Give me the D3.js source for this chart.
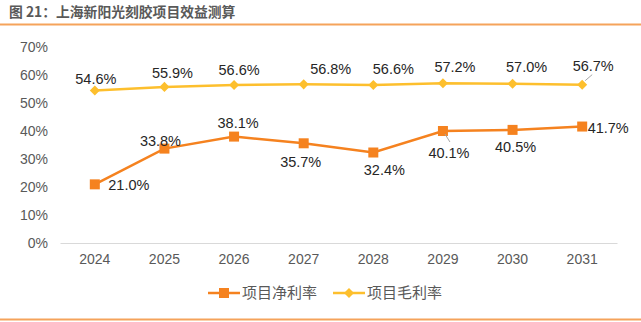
<!DOCTYPE html>
<html><head><meta charset="utf-8">
<script src="https://cdn.jsdelivr.net/npm/d3@7"></script>
<style>body{margin:0;background:#fff;}svg{display:block;}</style>
</head><body>
<script>
const years = ["2024","2025","2026","2027","2028","2029","2030","2031"];
const netMargin = [21.0, 33.8, 38.1, 35.7, 32.4, 40.1, 40.5, 41.7];
const grossMargin = [54.6, 55.9, 56.6, 56.8, 56.6, 57.2, 57.0, 56.7];
const yTicks = [0, 10, 20, 30, 40, 50, 60, 70];
const seriesNames = ["项目净利率", "项目毛利率"];
const title = "图 21：上海新阳光刻胶项目效益测算";

// label offsets (layout only)
const netLabelOff = [[34,1],[-4,-8],[4,-14],[-3,19],[11,17],[6,22],[3,17],[26,1]];
const grossLabelOff = [[1,-12],[8,-14],[5,-15],[27,-15],[20,-16],[12,-16],[14,-17],[11,-19]];

const W = 641, H = 322;
const svg = d3.select("body").append("svg").attr("width", W).attr("height", H);
const font = "'Liberation Sans', Arial, sans-serif";
const cjk = "'Noto Sans CJK SC', 'Microsoft YaHei', sans-serif";

svg.append("text").attr("x", 9).attr("y", 17)
  .attr("font-family", cjk).attr("font-weight", "bold").attr("font-size", 13.8)
  .attr("fill", "#595959").text(title);
svg.append("line").attr("x1", 0).attr("x2", W).attr("y1", 24.5).attr("y2", 24.5)
  .attr("stroke", "#F5A35B").attr("stroke-width", 2);
svg.append("line").attr("x1", 0).attr("x2", W).attr("y1", 319.5).attr("y2", 319.5)
  .attr("stroke", "#F5A35B").attr("stroke-width", 2);

const x = d3.scaleBand().domain(years).range([60, 617]);
const y = d3.scaleLinear().domain([0, 70]).range([243, 47.5]);
const cx = d => x(d) + x.bandwidth() / 2;

// y axis labels
svg.append("g").selectAll("text").data(yTicks).join("text")
  .attr("x", 48).attr("y", d => y(d)).attr("dy", "0.35em")
  .attr("text-anchor", "end").attr("font-family", font).attr("font-size", 14)
  .attr("fill", "#595959").text(d => d + "%");

// x axis
const xAxis = d3.axisBottom(x).tickSize(0).tickPadding(11);
const gx = svg.append("g").attr("transform", "translate(0,243)").call(xAxis);
gx.select(".domain").attr("stroke", "#D9D9D9").attr("stroke-width", 1);
gx.selectAll("text").attr("font-family", font).attr("font-size", 14).attr("fill", "#595959");

const line = d3.line().x((d, i) => cx(years[i])).y(d => y(d));
const netColor = "#F5821F", grossColor = "#FDBF2D";

svg.append("path").datum(grossMargin).attr("d", line).attr("fill", "none")
  .attr("stroke", grossColor).attr("stroke-width", 2.5);
svg.append("path").datum(netMargin).attr("d", line).attr("fill", "none")
  .attr("stroke", netColor).attr("stroke-width", 2.5);

const diamond = d3.symbol().type(d3.symbolDiamond2).size(64);
svg.append("g").selectAll("path").data(grossMargin).join("path")
  .attr("d", diamond)
  .attr("transform", (d, i) => `translate(${cx(years[i])},${y(d)})`)
  .attr("fill", grossColor);
svg.append("g").selectAll("rect").data(netMargin).join("rect")
  .attr("x", (d, i) => cx(years[i]) - 5).attr("y", d => y(d) - 5)
  .attr("width", 10).attr("height", 10).attr("fill", netColor);

// leader lines
const leaders = [
  {s: grossMargin, i: 7, x1: 3, y1: -4, x2: 10, y2: -10},
  {s: netMargin, i: 5, x1: 2, y1: 3, x2: 7, y2: 11}
];
svg.append("g").selectAll("line").data(leaders).join("line")
  .attr("x1", d => cx(years[d.i]) + d.x1).attr("y1", d => y(d.s[d.i]) + d.y1)
  .attr("x2", d => cx(years[d.i]) + d.x2).attr("y2", d => y(d.s[d.i]) + d.y2)
  .attr("stroke", "#A6A6A6").attr("stroke-width", 1);

function labels(data, off) {
  svg.append("g").selectAll("text").data(data).join("text")
    .attr("x", (d, i) => cx(years[i]) + off[i][0])
    .attr("y", (d, i) => y(d) + off[i][1]).attr("dy", "0.35em")
    .attr("text-anchor", "middle").attr("font-family", font).attr("font-size", 14.5)
    .attr("fill", "#262626").text(d => d.toFixed(1) + "%");
}
labels(grossMargin, grossLabelOff);
labels(netMargin, netLabelOff);

// legend
const lg = svg.append("g");
const legendItems = [
  {name: seriesNames[0], color: netColor, x: 208, shape: "sq"},
  {name: seriesNames[1], color: grossColor, x: 333, shape: "di"}
];
legendItems.forEach(it => {
  lg.append("line").attr("x1", it.x).attr("x2", it.x + 32).attr("y1", 293).attr("y2", 293)
    .attr("stroke", it.color).attr("stroke-width", 2.5);
  if (it.shape === "sq") {
    lg.append("rect").attr("x", it.x + 11).attr("y", 288).attr("width", 10).attr("height", 10).attr("fill", it.color);
  } else {
    lg.append("path").attr("d", diamond).attr("transform", `translate(${it.x + 16},293)`).attr("fill", it.color);
  }
  lg.append("text").attr("x", it.x + 34).attr("y", 293).attr("dy", "0.35em")
    .attr("font-family", cjk).attr("font-size", 15).attr("fill", "#595959").text(it.name);
});
</script>
</body></html>
